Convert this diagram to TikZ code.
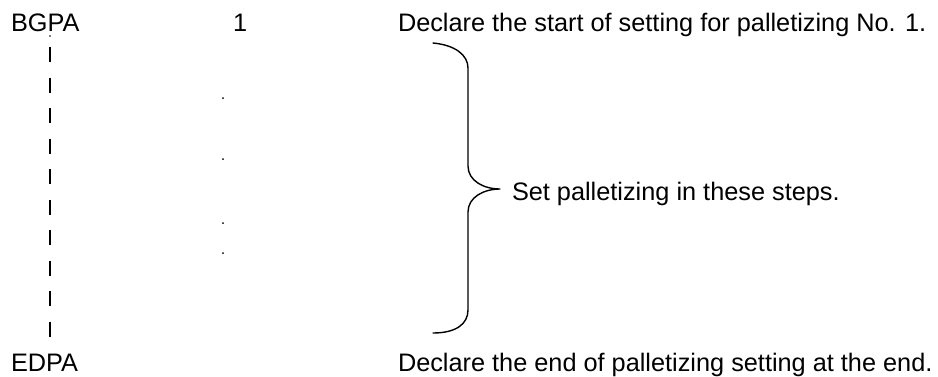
\documentclass[tikz,border=0pt]{standalone}
\usepackage{fontspec}
\setmainfont{Liberation Sans}
\begin{document}
\begin{tikzpicture}[x=1pt,y=-1pt,
  lbl/.style={anchor=base west,inner sep=0pt,outer sep=0pt,font=\fontsize{25.3}{30}\selectfont},
  dashline/.style={line width=1.3pt,dash pattern=on 15pt off 15.5pt},
  bracepath/.style={line width=1.4pt,line cap=round,line join=round}]
\useasboundingbox (0,0) rectangle (938,376);
\node[lbl] (bgpa) at (11,31) {BGPA};
\node[lbl] (one) at (233,31) {1};
\node[lbl] (start) at (398,31) {Declare the start of setting for palletizing No. 1.};
\node[lbl] (steps) at (512,200) {Set palletizing in these steps.};
\node[lbl] (edpa) at (11,371) {EDPA};
\node[lbl] (endtxt) at (398,371) {Declare the end of palletizing setting at the end.};
\coordinate (dtop) at (50,47);
\coordinate (dbot) at (50,340);
\draw[dashline] (dtop) -- (dbot);
\fill (50,36) circle (0.8);
\foreach \yy in {98,159,223,253} \fill (223,\yy) circle (1);
\coordinate (btop) at (433,43);
\coordinate (btip) at (500,189);
\coordinate (bbot) at (433,333);
\draw[bracepath] (btop) .. controls (455,45) and (468,55) .. (468,68)
  -- (468,166) .. controls (468,181) and (484,189) .. (btip)
  .. controls (484,189) and (468,197) .. (468,212)
  -- (468,310) .. controls (468,324) and (456,333) .. (bbot);
\end{tikzpicture}
\end{document}
